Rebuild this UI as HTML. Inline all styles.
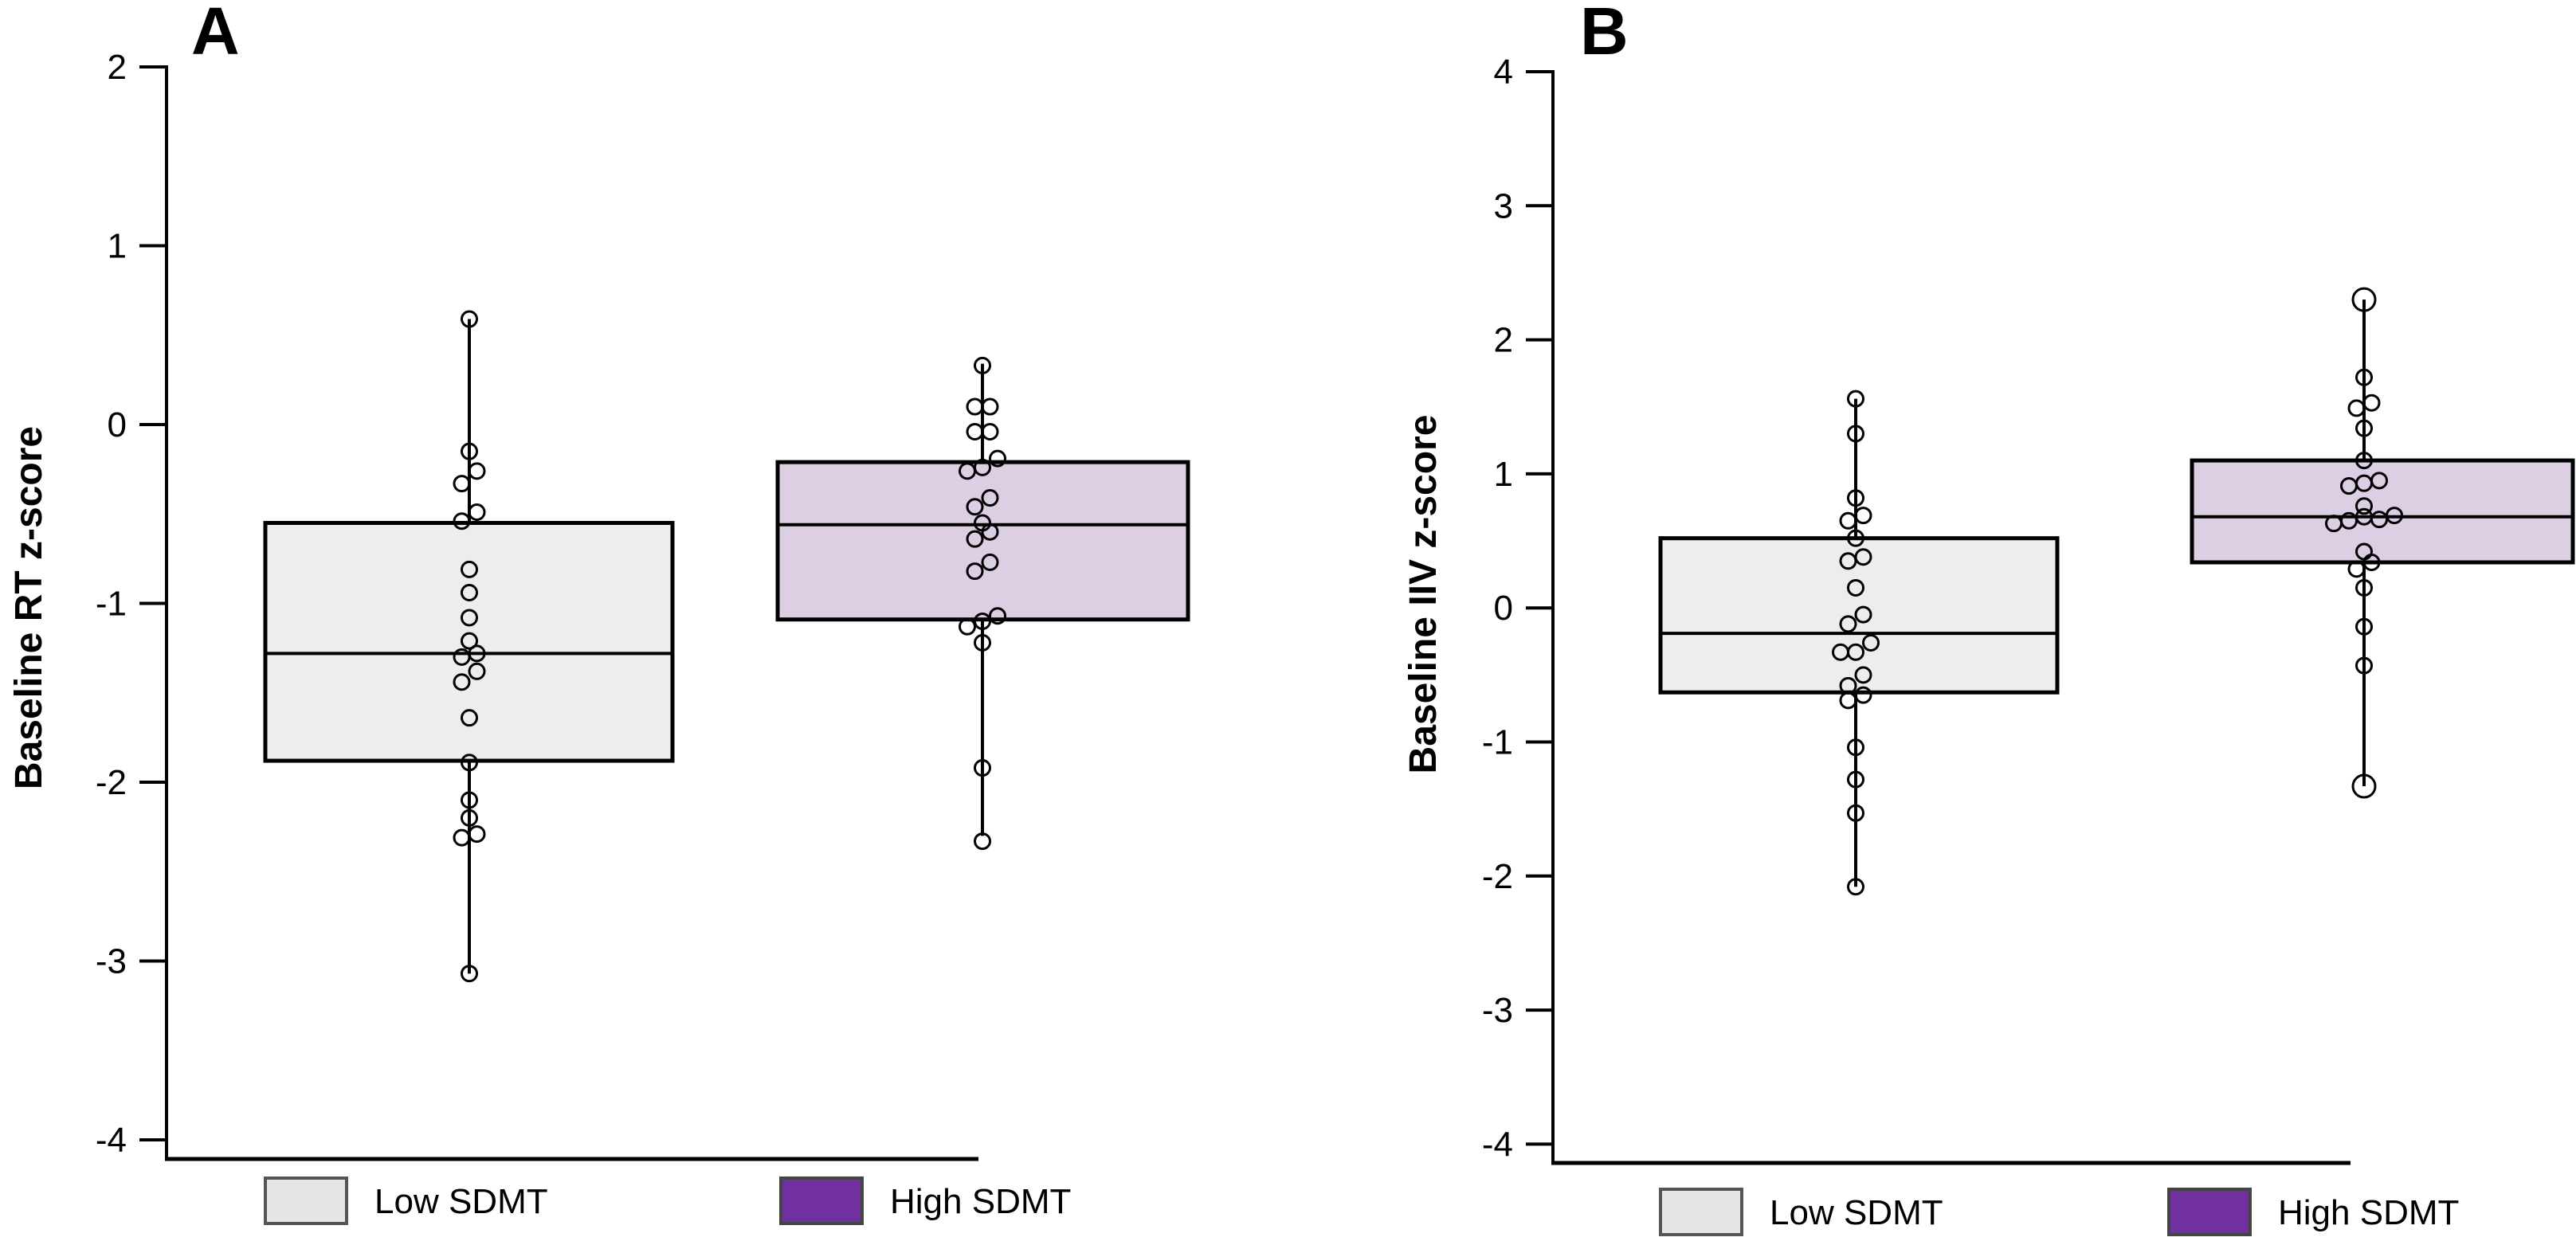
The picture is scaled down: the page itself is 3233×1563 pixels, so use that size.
<!DOCTYPE html>
<html><head><meta charset="utf-8"><style>
html,body{margin:0;padding:0;background:#fff;}
svg{display:block;font-family:"Liberation Sans",Arial,sans-serif;}
</style></head><body>
<svg id="fig" width="3233" height="1563" viewBox="0 0 3233 1563" xmlns="http://www.w3.org/2000/svg"></svg>
<script>
// Panel A data
const aTicks = [2,1,0,-1,-2,-3,-4];
const aLowStats = [0.59,-0.55,-1.28,-1.88,-3.07]; // whiskerTop,Q3,median,Q1,whiskerBottom
const aHighStats = [0.34,-0.21,-0.56,-1.09,-2.30];
const aLowPts = [0.59,-0.15,-0.26,-0.33,-0.49,-0.54,-0.81,-0.94,-1.08,-1.21,-1.30,-1.28,-1.38,-1.44,-1.64,-1.89,-2.10,-2.20,-2.29,-2.31,-3.07];
const aLowOff = [0,0,1,-1,1,-1,0,0,0,0,-1,1,1,-1,0,0,0,0,1,-1,0];
const aHighPts = [0.33,0.10,0.10,-0.04,-0.04,-0.19,-0.26,-0.24,-0.41,-0.46,-0.55,-0.60,-0.64,-0.77,-0.82,-1.07,-1.10,-1.13,-1.22,-1.92,-2.33];
const aHighOff = [0,-1,1,-1,1,2,-2,0,1,-1,0,1,-1,1,-1,2,0,-2,0,0,0];
// Panel B data
const bTicks = [4,3,2,1,0,-1,-2,-3,-4];
const bLowStats = [1.56,0.52,-0.19,-0.63,-2.08];
const bHighStats = [2.30,1.10,0.68,0.34,-1.33];
const bLowPts = [1.56,1.30,0.82,0.69,0.65,0.52,0.38,0.35,0.15,-0.05,-0.12,-0.26,-0.33,-0.33,-0.50,-0.58,-0.65,-0.69,-1.04,-1.28,-1.53,-2.08];
const bLowOff = [0,0,0,1,-1,0,1,-1,0,1,-1,2,-2,0,1,-1,1,-1,0,0,0,0];
const bHighPts = [2.30,1.72,1.53,1.49,1.34,1.10,0.95,0.93,0.91,0.76,0.69,0.66,0.68,0.65,0.63,0.42,0.34,0.29,0.15,-0.14,-0.43,-1.33];
const bHighOff = [0,0,1,-1,0,0,2,0,-2,0,4,2,0,-2,-4,0,1,-1,0,0,0,0];
const bHighBig = [2.30,-1.33];
const legendLabels = ["Low SDMT","High SDMT"];

const NS="http://www.w3.org/2000/svg";
const svg=document.getElementById('fig');
function mk(tag,attrs,parent){const e=document.createElementNS(NS,tag);for(const k in attrs)e.setAttribute(k,attrs[k]);(parent||svg).appendChild(e);return e;}

function panel(cfg){
  const g=mk('g',{});
  
  
  const y=v=>cfg.y0+(cfg.vTop-v)*cfg.unit;
  const L=mk('text',{x:cfg.letterX,y:68,'font-size':84,'font-weight':'bold',fill:'#000'},g);L.textContent=cfg.id.toUpperCase();
  
  
  const ax=mk('line',{x1:cfg.ax,y1:y(cfg.vTop)-2,x2:cfg.ax,y2:cfg.axBottom+2,stroke:'#000','stroke-width':4},g);
  
  
  const xa=mk('line',{x1:cfg.ax-2,y1:cfg.axBottom,x2:cfg.axEnd,y2:cfg.axBottom,stroke:'#000','stroke-width':5},g);
  
  
  cfg.ticks.forEach(t=>{
    const tl=mk('line',{x1:cfg.ax-34,y1:y(t),x2:cfg.ax,y2:y(t),stroke:'#000','stroke-width':4},g);
    
    
    const tx=mk('text',{x:cfg.ax-50,y:y(t)+15,'font-size':44,'text-anchor':'end',fill:'#000'},g);tx.textContent=String(t);
    
    
  });
  const tt=mk('text',{x:0,y:0,'font-size':48,'font-weight':'bold','text-anchor':'middle',transform:`translate(${cfg.titleX},${cfg.titleY}) rotate(-90)`},g);
  tt.textContent=cfg.title;
  
  
  cfg.groups.forEach((gr,i)=>{
    const s=gr.stats;
    const wk=mk('line',{x1:gr.cx,y1:y(s[0]),x2:gr.cx,y2:y(s[4]),stroke:'#000','stroke-width':4},g);
    
    
    const bx=mk('rect',{x:gr.x1,y:y(s[1]),width:gr.x2-gr.x1,height:y(s[3])-y(s[1]),fill:gr.fill,stroke:'#000','stroke-width':5},g);
    
    
    const md=mk('line',{x1:gr.x1,y1:y(s[2]),x2:gr.x2,y2:y(s[2]),stroke:'#000','stroke-width':4},g);
    
    
    gr.pts.forEach((v,j)=>{
      const big=(gr.big||[]).indexOf(v)>=0&&(j===0||j===gr.pts.length-1);
      const c=mk('circle',{cx:gr.cx+gr.off[j]*9.5,cy:y(v),r:big?14:9.5,fill:'none',stroke:'#000','stroke-width':3},g);
      
      
    });
    const lg=mk('rect',{x:gr.lx,y:cfg.legY,width:102,height:57,fill:gr.legFill,stroke:gr.legStroke,'stroke-width':4},g);
    
    
    const lt=mk('text',{x:gr.lx+137,y:cfg.legY+44,'font-size':44,fill:'#000'},g);lt.textContent=legendLabels[i];
    
    
  });
}

panel({id:'a',vTop:2,y0:84,unit:224.5,ax:209,axBottom:1455,axEnd:1228,letterX:240,ticks:aTicks,
  title:'Baseline RT z-score',titleX:52,titleY:763,legY:1479,
  groups:[
    {name:'low-sdmt',stats:aLowStats,pts:aLowPts,off:aLowOff,x1:333,x2:844,cx:589,fill:'#ededed',lx:333,legFill:'#e6e6e6',legStroke:'#555'},
    {name:'high-sdmt',stats:aHighStats,pts:aHighPts,off:aHighOff,x1:976,x2:1491,cx:1233,fill:'#dccfe3',lx:980,legFill:'#7030a0',legStroke:'#444'}
  ]});
panel({id:'b',vTop:4,y0:90,unit:168.3,ax:1949,axBottom:1460,axEnd:2950,letterX:1983,ticks:bTicks,
  title:'Baseline IIV z-score',titleX:1802,titleY:746,legY:1493,
  groups:[
    {name:'low-sdmt',stats:bLowStats,pts:bLowPts,off:bLowOff,x1:2084,x2:2582,cx:2329,fill:'#ededed',lx:2084,legFill:'#e6e6e6',legStroke:'#555'},
    {name:'high-sdmt',stats:bHighStats,pts:bHighPts,off:bHighOff,big:bHighBig,x1:2751,x2:3229,cx:2967,fill:'#dccfe3',lx:2722,legFill:'#7030a0',legStroke:'#444'}
  ]});
</script>
</body></html>
